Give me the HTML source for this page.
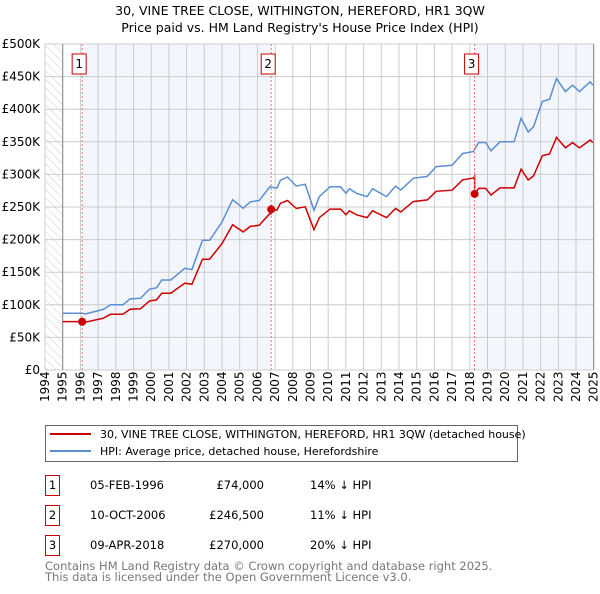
<!DOCTYPE html>
<html><head><meta charset="utf-8"><style>
body{margin:0;background:#fff;font-family:"DejaVu Sans","Liberation Sans",sans-serif;}
svg text{font-family:"DejaVu Sans","Liberation Sans",sans-serif;}
</style></head><body>
<svg id="chart" width="600" height="590" viewBox="0 0 600 590" xmlns="http://www.w3.org/2000/svg">
<defs><pattern id="hatch" width="6" height="6" patternUnits="userSpaceOnUse" patternTransform="rotate(-45)"><line x1="0" y1="0" x2="0" y2="6" stroke="#ccc" stroke-width="1"/></pattern></defs>
<text x="300" y="15" text-anchor="middle" font-size="12.5">30, VINE TREE CLOSE, WITHINGTON, HEREFORD, HR1 3QW</text>
<text x="300" y="32" text-anchor="middle" font-size="12.5">Price paid vs. HM Land Registry's House Price Index (HPI)</text>
<g id="plot"></g>
<g>
<rect x="45.5" y="425.5" width="472" height="36" fill="#fff" stroke="#666"/>
<line x1="50" y1="434" x2="91" y2="434" stroke="#cc0000" stroke-width="2"/>
<text x="100" y="438" font-size="11">30, VINE TREE CLOSE, WITHINGTON, HEREFORD, HR1 3QW (detached house)</text>
<line x1="50" y1="451" x2="91" y2="451" stroke="#5b8fd4" stroke-width="2"/>
<text x="100" y="455" font-size="11">HPI: Average price, detached house, Herefordshire</text>
</g>
<g id="table" font-size="11.5"></g>
<text x="45" y="570" font-size="11.5" fill="#777">Contains HM Land Registry data © Crown copyright and database right 2025.</text>
<text x="45" y="581" font-size="11.5" fill="#777">This data is licensed under the Open Government Licence v3.0.</text>
</svg>
<script>
const hpiYears=[1995.0,1996.0,1996.3,1997.3,1997.7,1998.4,1998.8,1999.4,1999.9,2000.3,2000.6,2001.1,2001.9,2002.3,2002.9,2003.3,2004.0,2004.6,2005.2,2005.6,2006.1,2006.7,2007.1,2007.3,2007.7,2008.2,2008.7,2009.2,2009.5,2010.1,2010.7,2011.0,2011.2,2011.6,2012.2,2012.5,2013.3,2013.8,2014.1,2014.8,2015.6,2016.1,2017.0,2017.6,2018.2,2018.5,2018.9,2019.2,2019.7,2020.5,2020.9,2021.3,2021.6,2022.1,2022.5,2022.9,2023.4,2023.8,2024.2,2024.8,2024.95];
const hpiValues=[87,87,86,93,100,100,109,110,124,126,138,138,156,154,199,199,227,261,248,258,260,281,279,291,296,282,285,245,266,281,281,271,278,271,266,278,266,282,276,294,297,312,314,332,335,349,349,336,350,350,386,365,373,412,415,447,427,437,427,442,437];
const saleYears=[1996.1,2006.78,2018.27];
const salePrices=[74,246.5,270];
const saleDates=["05-FEB-1996","10-OCT-2006","09-APR-2018"];
const saleLabels=["£74,000","£246,500","£270,000"];
const saleDiffs=["14% ↓ HPI","11% ↓ HPI","20% ↓ HPI"];
const yTicks=[0,50,100,150,200,250,300,350,400,450,500];
const yTickLabels=["£0","£50K","£100K","£150K","£200K","£250K","£300K","£350K","£400K","£450K","£500K"];
const xTicks=[1994,1995,1996,1997,1998,1999,2000,2001,2002,2003,2004,2005,2006,2007,2008,2009,2010,2011,2012,2013,2014,2015,2016,2017,2018,2019,2020,2021,2022,2023,2024,2025];

const NS="http://www.w3.org/2000/svg";
const X0=45,X1=593.7,Y0=370,Y1=44;
const xs=y=>X0+(y-1994)/31*(X1-X0);
const ys=v=>Y0-v/500*(Y0-Y1);
const plot=document.getElementById('plot');
function mk(tag,attrs,parent){const e=document.createElementNS(NS,tag);for(const k in attrs)e.setAttribute(k,attrs[k]);(parent||plot).appendChild(e);return e;}
function hpiAt(t){for(let i=0;i<hpiYears.length-1;i++){if(t<=hpiYears[i+1]){const f=(t-hpiYears[i])/(hpiYears[i+1]-hpiYears[i]);return hpiValues[i]+f*(hpiValues[i+1]-hpiValues[i]);}}return hpiValues[hpiValues.length-1];}

let e;
e=mk('rect',{x:xs(1994),y:Y1,width:xs(1995)-xs(1994),height:Y0-Y1,fill:'url(#hatch)'});


e=mk('rect',{x:xs(saleYears[0]),y:Y1,width:xs(saleYears[1])-xs(saleYears[0]),height:Y0-Y1,fill:'#f3f6fd'});


e=mk('rect',{x:xs(saleYears[2]),y:Y1,width:X1-xs(saleYears[2]),height:Y0-Y1,fill:'#f3f6fd'});


xTicks.forEach(t=>{
  e=mk('line',{x1:xs(t),x2:xs(t),y1:Y1,y2:Y0,stroke:'#ccc','stroke-width':1});
  
  
  const tx=xs(t)+4;
  e=mk('text',{x:0,y:0,transform:`translate(${tx},${Y0+32}) rotate(-90)`,'font-size':'12'});
  e.textContent=t;
  
  
});
yTicks.forEach((v,i)=>{
  e=mk('line',{x1:X0,x2:X1,y1:ys(v),y2:ys(v),stroke:'#ccc','stroke-width':1});
  
  
  e=mk('text',{x:40,y:ys(v)+4,'text-anchor':'end','font-size':'12'});
  e.textContent=yTickLabels[i];
  
  
});
e=mk('line',{x1:xs(1995),x2:xs(1995),y1:Y1,y2:Y0,stroke:'#888'});


e=mk('line',{x1:X1,x2:X1,y1:Y1,y2:Y0,stroke:'#888'});



let d=hpiYears.map((t,i)=>(i?'L':'M')+xs(t).toFixed(1)+','+ys(hpiValues[i]).toFixed(1)).join('');
e=mk('path',{d:d,fill:'none',stroke:'#5b8fd4','stroke-width':1.5});


function segIdx(t){let k=0;for(let j=0;j<saleYears.length;j++)if(t>=saleYears[j])k=j;return k;}
const pts=[];
const times=hpiYears.concat(saleYears).sort((a,b)=>a-b);
times.forEach(t=>{
  const k=segIdx(t);
  if(saleYears.includes(t)&&k>0){const prev=k-1;pts.push([t,salePrices[prev]*hpiAt(t)/hpiAt(saleYears[prev])]);}
  pts.push([t,salePrices[k]*hpiAt(t)/hpiAt(saleYears[k])]);
});
d=pts.map((p,i)=>(i?'L':'M')+xs(p[0]).toFixed(1)+','+ys(p[1]).toFixed(1)).join('');
e=mk('path',{d:d,fill:'none',stroke:'#cc0000','stroke-width':1.5});



saleYears.forEach((t,i)=>{
  e=mk('line',{x1:xs(t),x2:xs(t),y1:Y1,y2:Y0,stroke:'#f07070','stroke-dasharray':'2,2'});
  
  
  e=mk('circle',{cx:xs(t),cy:ys(salePrices[i]),r:4,fill:'#cc0000'});
  
  
  e=mk('rect',{x:xs(t)-10,y:54,width:14,height:20,fill:'#fff',stroke:'#cc0000'});
  
  
  e=mk('text',{x:xs(t)-3,y:68,'text-anchor':'middle','font-size':'12'});
  e.textContent=i+1;
  
  
});

const tbl=document.getElementById('table');
saleDates.forEach((s,i)=>{
  const y=475+i*30;
  e=mk('rect',{x:45.5,y:y+0.5,width:14,height:20,fill:'#fff',stroke:'#cc0000'},tbl);
  
  
  e=mk('text',{x:52.5,y:y+14,'text-anchor':'middle'},tbl);e.textContent=i+1;
  
  
  e=mk('text',{x:90,y:y+14},tbl);e.textContent=s;
  
  
  e=mk('text',{x:264,y:y+14,'text-anchor':'end'},tbl);e.textContent=saleLabels[i];
  
  
  e=mk('text',{x:310,y:y+14},tbl);e.textContent=saleDiffs[i];
  
  
});
</script>
</body></html>
